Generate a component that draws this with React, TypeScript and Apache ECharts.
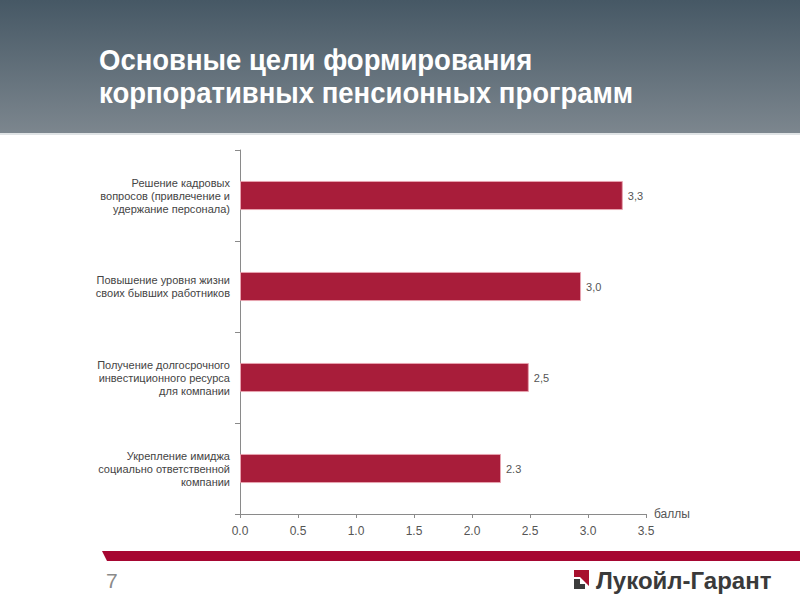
import React, { useEffect, useRef } from "react";
import * as echarts from "echarts";

const categories = [
  "Решение кадровых\nвопросов (привлечение и\nудержание персонала)",
  "Повышение уровня жизни\nсвоих бывших работников",
  "Получение долгосрочного\nинвестиционного ресурса\nдля компании",
  "Укрепление имиджа\nсоциально ответственной\nкомпании",
];
const values = [3.3, 2.94, 2.49, 2.25];
const valueLabels = ["3,3", "3,0", "2,5", "2.3"];
const titleLines = ["Основные цели формирования", "корпоративных пенсионных программ"];
const axisName = "баллы";
const pageNumber = "7";
const brand = "Лукойл-Гарант";

export default function App() {
  const ref = useRef<HTMLDivElement>(null);
  useEffect(() => {
    if (!ref.current) return;
    const chart = echarts.init(ref.current, null, { renderer: "svg" });
    chart.setOption({
      animation: false,
      backgroundColor: "#ffffff",
      grid: { left: 240, top: 150, right: 154, bottom: 86, containLabel: false },
      xAxis: {
        type: "value",
        min: 0,
        max: 3.5,
        interval: 0.5,
        name: axisName,
        nameLocation: "end",
        nameGap: 8,
        nameTextStyle: { color: "#555", fontSize: 12, fontFamily: "Liberation Sans, Arial" },
        axisLine: { show: true, lineStyle: { color: "#8a8a8a", width: 1 } },
        axisTick: { show: true, inside: false, length: 4, lineStyle: { color: "#8a8a8a" } },
        axisLabel: {
          color: "#555",
          fontSize: 12,
          margin: 11,
          fontFamily: "Liberation Sans, Arial",
          formatter: (v: number) => v.toFixed(1),
        },
        splitLine: { show: false },
      },
      yAxis: {
        type: "category",
        data: categories,
        inverse: true,
        axisLine: { show: true, lineStyle: { color: "#8a8a8a", width: 1 } },
        axisTick: { show: true, inside: false, length: 5, lineStyle: { color: "#8a8a8a" } },
        axisLabel: {
          color: "#444",
          fontSize: 11,
          lineHeight: 13,
          margin: 10,
          align: "right",
          fontFamily: "Liberation Sans, Arial",
        },
        splitLine: { show: false },
      },
      series: [
        {
          type: "bar",
          data: values,
          barWidth: "32%",
          itemStyle: { color: "#a81d3a", borderColor: "#e7a3b0", borderWidth: 1 },
          label: {
            show: true,
            position: "right",
            distance: 5,
            color: "#555",
            fontSize: 11,
            fontFamily: "Liberation Sans, Arial",
            formatter: (p: any) => valueLabels[p.dataIndex],
          },
        },
      ],
      graphic: [
        {
          type: "rect",
          shape: { x: 0, y: 0, width: 800, height: 133 },
          style: {
            fill: new echarts.graphic.LinearGradient(0, 0, 0, 1, [
              { offset: 0, color: "#465865" },
              { offset: 1, color: "#7c868e" },
            ]),
          },
          silent: true,
        },
        {
          type: "rect",
          shape: { x: 0, y: 133, width: 800, height: 2 },
          style: { fill: "#dfe3e5" },
          silent: true,
        },
        {
          type: "text",
          x: 99,
          y: 60,
          scaleY: 1.08,
          style: {
            text: titleLines[0],
            fill: "#ffffff",
            font: "bold 27.5px 'Liberation Sans', Arial",
            verticalAlign: "middle",
            align: "left",
          },
          silent: true,
        },
        {
          type: "text",
          x: 99,
          y: 93,
          scaleY: 1.08,
          style: {
            text: titleLines[1],
            fill: "#ffffff",
            font: "bold 27.5px 'Liberation Sans', Arial",
            verticalAlign: "middle",
            align: "left",
          },
          silent: true,
        },
        {
          type: "polygon",
          shape: { points: [[102, 551], [800, 551], [800, 561], [107, 561]] },
          style: { fill: "#a60631" },
          silent: true,
        },
        {
          type: "text",
          x: 106,
          y: 580,
          style: {
            text: pageNumber,
            fill: "#8a8a8a",
            font: "21px 'Liberation Sans', Arial",
            verticalAlign: "middle",
          },
          silent: true,
        },
        {
          type: "polygon",
          shape: { points: [[574, 570], [589, 570], [589, 586], [580, 577], [574, 577]] },
          style: { fill: "#a8102e" },
          silent: true,
        },
        {
          type: "polygon",
          shape: { points: [[574, 579], [580, 579], [580, 584], [585, 584], [585, 589], [574, 589]] },
          style: { fill: "#3c3c3c" },
          silent: true,
        },
        {
          type: "text",
          x: 596,
          y: 580,
          style: {
            text: brand,
            fill: "#3a3a3a",
            font: "bold 24px 'Liberation Sans', Arial",
            verticalAlign: "middle",
          },
          silent: true,
        },
      ],
    });
    return () => chart.dispose();
  }, []);
  return (
    <div
      ref={ref}
      style={{ position: "fixed", left: 0, top: 0, width: 800, height: 600 }}
    />
  );
}
